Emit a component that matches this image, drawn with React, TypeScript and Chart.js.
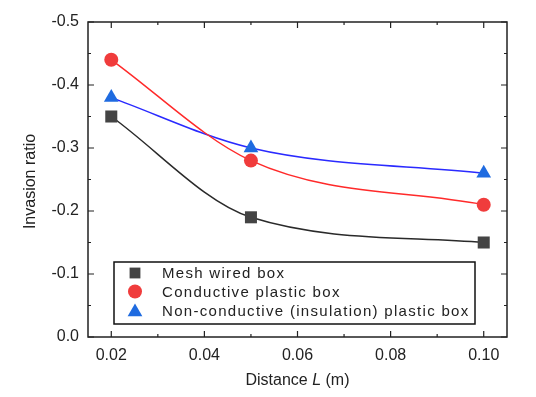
import React, { useEffect, useRef } from "react";
import { Chart, registerables } from "chart.js";

Chart.register(...registerables);

// ---- data ----
const distances = [0.02, 0.05, 0.1];
const meshWired = [-0.35, -0.19, -0.15];
const conductivePlastic = [-0.44, -0.28, -0.21];
const nonConductivePlastic = [-0.38, -0.3, -0.26];

const seriesNames = [
  "Mesh wired box",
  "Conductive plastic box",
  "Non-conductive (insulation) plastic box",
];

const xTicks = [0.02, 0.04, 0.06, 0.08, 0.1];
const xMinorTicks = [0.03, 0.05, 0.07, 0.09];
const yTicks = [-0.5, -0.4, -0.3, -0.2, -0.1, 0.0];
const yMinorTicks = [-0.45, -0.35, -0.25, -0.15, -0.05];

const xTitleParts = ["Distance ", "L", " (m)"];
const yTitle = "Invasion ratio";

// ---- styles ----
const markerColors = ["#444444", "#f03c3c", "#1f6be0"];
const lineColors = ["#2a2a2a", "#ff2a2a", "#2a2aff"];
const markerStyles = ["rect", "circle", "triangle"];
const markerRadius = [8.5, 7, 8.5];

const toXY = (ys: number[]) => distances.map((x, i) => ({ x, y: ys[i] }));

function drawMarker(ctx: CanvasRenderingContext2D, style: string, x: number, y: number, r: number, color: string) {
  ctx.fillStyle = color;
  ctx.beginPath();
  if (style === "rect") {
    const s = Math.SQRT1_2 * r;
    ctx.rect(x - s, y - s, 2 * s, 2 * s);
  } else if (style === "circle") {
    ctx.arc(x, y, r, 0, Math.PI * 2);
  } else {
    let rad = 0;
    ctx.moveTo(x + Math.sin(rad) * r, y - Math.cos(rad) * r);
    rad += (2 * Math.PI) / 3;
    ctx.lineTo(x + Math.sin(rad) * r, y - Math.cos(rad) * r);
    rad += (2 * Math.PI) / 3;
    ctx.lineTo(x + Math.sin(rad) * r, y - Math.cos(rad) * r);
    ctx.closePath();
  }
  ctx.fill();
}

const decorPlugin = {
  id: "decor",
  afterDraw(chart: any) {
    const ctx: CanvasRenderingContext2D = chart.ctx;
    const { left, right, top, bottom } = chart.chartArea;
    const xs = chart.scales.x;
    const ys = chart.scales.y;
    ctx.save();
    // frame
    ctx.strokeStyle = "#222";
    ctx.lineWidth = 1.5;
    ctx.strokeRect(left, top, right - left, bottom - top);
    // inward ticks
    ctx.lineWidth = 1.2;
    const major = 6;
    const minor = 3;
    const tickX = (v: number, len: number) => {
      const px = xs.getPixelForValue(v);
      ctx.beginPath();
      ctx.moveTo(px, bottom);
      ctx.lineTo(px, bottom - len);
      ctx.moveTo(px, top);
      ctx.lineTo(px, top + len);
      ctx.stroke();
    };
    const tickY = (v: number, len: number) => {
      const py = ys.getPixelForValue(v);
      ctx.beginPath();
      ctx.moveTo(left, py);
      ctx.lineTo(left + len, py);
      ctx.moveTo(right, py);
      ctx.lineTo(right - len, py);
      ctx.stroke();
    };
    xTicks.forEach((v) => tickX(v, major));
    xMinorTicks.forEach((v) => tickX(v, minor));
    yTicks.forEach((v) => tickY(v, major));
    yMinorTicks.forEach((v) => tickY(v, minor));

    // axis titles
    ctx.fillStyle = "#222";
    ctx.textBaseline = "middle";
    ctx.font = "16px 'Liberation Sans', Arial, sans-serif";
    ctx.save();
    ctx.translate(31, (top + bottom) / 2 + 2);
    ctx.rotate(-Math.PI / 2);
    ctx.textAlign = "center";
    ctx.fillText(yTitle, 0, 0);
    ctx.restore();

    const fonts = [
      "16px 'Liberation Sans', Arial, sans-serif",
      "italic 16px 'Liberation Sans', Arial, sans-serif",
      "16px 'Liberation Sans', Arial, sans-serif",
    ];
    let total = 0;
    const widths = xTitleParts.map((t, i) => {
      ctx.font = fonts[i];
      const w = ctx.measureText(t).width;
      total += w;
      return w;
    });
    let cx = (left + right) / 2 - total / 2;
    ctx.textAlign = "left";
    xTitleParts.forEach((t, i) => {
      ctx.font = fonts[i];
      ctx.fillText(t, cx, 381);
      cx += widths[i];
    });

    // legend box
    const bx = 114;
    const by = 262;
    const bw = 361;
    const bh = 62;
    ctx.fillStyle = "#fff";
    ctx.fillRect(bx, by, bw, bh);
    ctx.strokeStyle = "#111";
    ctx.lineWidth = 1.5;
    ctx.strokeRect(bx, by, bw, bh);
    const rowY = [273, 291.5, 310.5];
    ctx.font = "15px 'Liberation Sans', Arial, sans-serif";
    (ctx as any).letterSpacing = "1.3px";
    ctx.textAlign = "left";
    ctx.textBaseline = "middle";
    seriesNames.forEach((name, i) => {
      drawMarker(ctx, markerStyles[i], 135, rowY[i] + (i === 2 ? 1.5 : 0), markerRadius[i] * (i === 0 ? 0.9 : 1), markerColors[i]);
      ctx.fillStyle = "#222";
      ctx.fillText(name, 162, rowY[i] + 1);
    });
    ctx.restore();
  },
};

export default function App() {
  const canvasRef = useRef<HTMLCanvasElement | null>(null);

  useEffect(() => {
    if (!canvasRef.current) return;
    const seriesVals = [meshWired, conductivePlastic, nonConductivePlastic];
    const markerSets = seriesVals.map((vals, i) => ({
      type: "scatter" as const,
      label: seriesNames[i],
      data: toXY(vals),
      showLine: false,
      pointStyle: markerStyles[i] as any,
      pointRadius: markerRadius[i],
      pointBackgroundColor: markerColors[i],
      pointBorderColor: markerColors[i],
      pointBorderWidth: 0,
      order: 0,
    }));
    const lineSets = seriesVals.map((vals, i) => ({
      type: "line" as const,
      label: seriesNames[i] + " fit",
      data: toXY(vals),
      showLine: true,
      borderColor: lineColors[i],
      borderWidth: 1.5,
      pointRadius: 0,
      cubicInterpolationMode: "monotone" as const,
      fill: false,
      order: 1,
    }));

    const chart = new Chart(canvasRef.current, {
      type: "scatter",
      data: { datasets: [...markerSets, ...lineSets] as any },
      options: {
        animation: false,
        responsive: false,
        layout: { padding: { top: 22, right: 29, left: 0, bottom: 0 } },
        plugins: { legend: { display: false }, tooltip: { enabled: false } },
        scales: {
          x: {
            type: "linear",
            min: 0.015,
            max: 0.105,
            grid: { display: false, drawTicks: false },
            border: { display: false },
            afterBuildTicks: (s: any) => {
              s.ticks = xTicks.map((v) => ({ value: v }));
            },
            afterFit: (s: any) => {
              s.height = 60;
            },
            ticks: {
              padding: 9,
              color: "#222",
              font: { family: "'Liberation Sans', Arial, sans-serif", size: 16 },
              callback: (v: any) => Number(v).toFixed(2),
              maxRotation: 0,
            },
          },
          y: {
            type: "linear",
            min: -0.5,
            max: 0,
            reverse: true,
            grid: { display: false, drawTicks: false },
            border: { display: false },
            afterBuildTicks: (s: any) => {
              s.ticks = yTicks.map((v) => ({ value: v }));
            },
            afterFit: (s: any) => {
              s.width = 88;
            },
            ticks: {
              padding: 9,
              color: "#222",
              font: { family: "'Liberation Sans', Arial, sans-serif", size: 16 },
              callback: (v: any) => Number(v).toFixed(1),
            },
          },
        },
      },
      plugins: [decorPlugin],
    });
    return () => chart.destroy();
  }, []);

  return (
    <div style={{ position: "absolute", left: 0, top: 0, width: 536, height: 397, background: "#fff" }}>
      <canvas ref={canvasRef} width={536} height={397} style={{ display: "block" }} />
    </div>
  );
}
